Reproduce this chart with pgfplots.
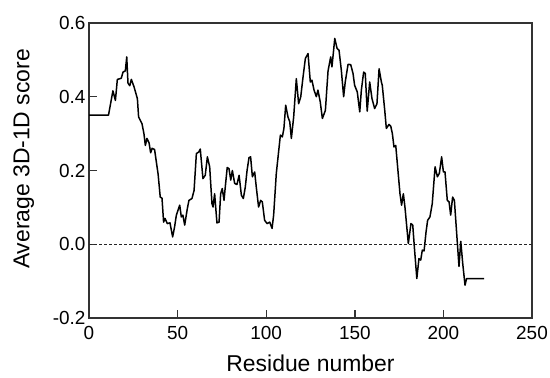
\documentclass[border=0pt]{standalone}
\usepackage{pgfplots}
\pgfplotsset{compat=1.18}
\usepackage{fontspec}
\setmainfont{Liberation Sans}
\begin{document}
\begin{tikzpicture}
\useasboundingbox (0,0) rectangle (550bp,378bp);
\begin{axis}[
  at={(89bp,60bp)}, anchor=south west,
  width=443bp, height=295bp, scale only axis,
  xmin=0, xmax=250, ymin=-0.2, ymax=0.6,
  xtick={0,50,100,150,200,250}, ytick={-0.2,0,0.2,0.4,0.6},
  yticklabel style={/pgf/number format/.cd,fixed,fixed zerofill,precision=1},
  tick align=inside, xtick pos=bottom, ytick pos=left,
  major tick length=8bp,
  axis line style={line width=1.6bp, color=black!80},
  every tick/.style={line width=1.4bp, color=black!80},
  tick label style={font=\fontsize{19}{22}\selectfont},
  xticklabel style={yshift=-5bp},
  /pgf/number format/assume math mode=true,
  xlabel={Residue number}, ylabel={Average 3D-1D score},
  label style={font=\fontsize{23}{27}\selectfont},
  xlabel style={at={(axis description cs:0.5,-0.183)}, anchor=base},
  ylabel style={at={(axis description cs:-0.147,0.539)}, anchor=center},
]
\addplot[black!85, line width=1.1bp, dash pattern=on 3bp off 2bp] coordinates {(0,0) (250,0)};
\addplot[black, line width=1.5bp, no marks, line join=round] coordinates {
(0,0.35) (11,0.35) (13.5,0.416) (14.9,0.39) (16,0.447) (18.2,0.45) (19.2,0.467) (20.5,0.47)
(21.3,0.508) (22,0.437) (23,0.43) (23.9,0.447) (25.4,0.427) (27.3,0.395) (28,0.345) (29.9,0.327)
(31,0.30) (31.8,0.268) (32.7,0.287) (33.9,0.275) (34.8,0.248) (35.6,0.26) (37,0.257) (39,0.19)
(40.2,0.128) (41.2,0.125) (42.1,0.06) (42.9,0.07) (44.2,0.056) (45.7,0.058) (47.2,0.02) (48.3,0.047)
(49.3,0.079) (51.2,0.106) (52.1,0.074) (53,0.079) (54,0.052) (55.5,0.097) (56.4,0.119) (58.1,0.124)
(59.3,0.146) (60.6,0.246) (61.9,0.25) (62.8,0.258) (64.3,0.178) (65.6,0.187) (66.8,0.237) (68.1,0.21)
(69.4,0.11) (70,0.101) (70.9,0.137) (72.2,0.058) (73.4,0.06) (74.3,0.137) (75.2,0.151) (76.2,0.119)
(76.9,0.155) (78,0.208) (79,0.205) (80,0.174) (80.9,0.2) (82.2,0.165) (83.5,0.162) (84.7,0.187)
(86,0.133) (87.1,0.124) (88.2,0.155) (89.2,0.2) (90.3,0.235) (91.2,0.237) (92.2,0.183) (93.5,0.196)
(94.4,0.155) (95.7,0.101) (96.9,0.119) (97.8,0.115) (99.1,0.065) (100.5,0.056) (102,0.06) (103.3,0.043)
(104.2,0.079) (105.7,0.192) (108,0.296) (109.1,0.291) (110,0.314) (111,0.377) (112.3,0.345) (113.3,0.332)
(114.2,0.287) (115.5,0.345) (117,0.449) (118.3,0.381) (119.5,0.40) (120.8,0.454) (122.1,0.504) (123.6,0.517)
(124.9,0.44) (125.8,0.445) (127,0.418) (128.3,0.40) (129.2,0.418) (130.5,0.386) (131.7,0.341) (133.4,0.363)
(134.9,0.47) (136.4,0.508) (137.1,0.481) (138.7,0.558) (140,0.531) (141.1,0.526) (142.4,0.472) (143.7,0.40)
(144.6,0.44) (146.2,0.488) (147.7,0.487) (149,0.463) (149.9,0.431) (151.4,0.413) (152.8,0.359) (153.7,0.418)
(155,0.467) (155.9,0.463) (157,0.361) (158.4,0.44) (159.7,0.395) (161.2,0.368) (162.5,0.381) (163.7,0.476)
(165,0.44) (165.5,0.431) (166.9,0.363) (167.8,0.314) (169.3,0.325) (170.3,0.32) (171.2,0.30) (172.1,0.264)
(173.1,0.268) (175.5,0.137) (176.4,0.106) (177.4,0.137) (178.3,0.101) (180.2,0.002) (181.7,0.056) (182.7,0.052)
(183.6,-0.007) (185,-0.093) (186.2,-0.039) (187.2,-0.043) (188.1,-0.016) (189.1,-0.018) (190.2,0.033) (191.1,0.065)
(192.4,0.074) (193.7,0.11) (195.3,0.21) (196.6,0.183) (197.7,0.192) (199,0.237) (200,0.196) (200.9,0.196)
(202.2,0.119) (203.2,0.115) (204.1,0.079) (205.2,0.128) (206.2,0.119) (207.5,0.029) (208.8,-0.06) (209.8,0.008)
(210.9,-0.052) (212.2,-0.111) (213.1,-0.093) (223,-0.093)
};
\end{axis}
\end{tikzpicture}
\end{document}
